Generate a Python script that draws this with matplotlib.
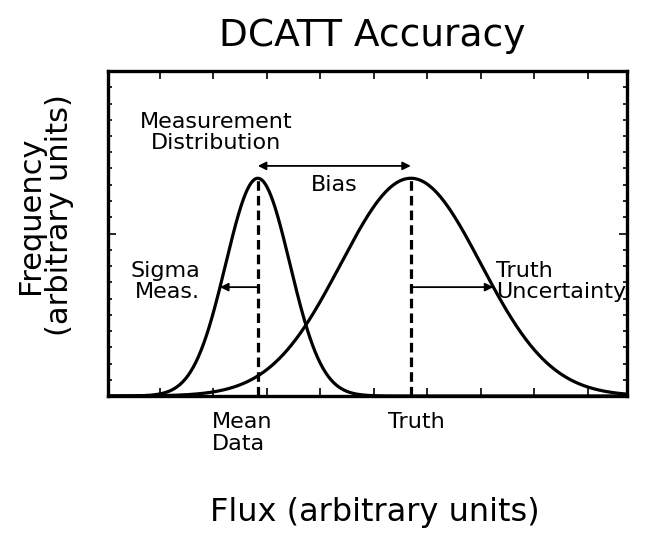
import numpy as np
import matplotlib
matplotlib.use("Agg")
import matplotlib.pyplot as plt

# (x in tick units, y as fraction of axis height)
mean_data=1.83
truth=4.69
sig_meas=0.6
sig_truth=1.31
peak=0.67
labels_meas=["Measurement","Distribution"]
lab_bias="Bias"
lab_sigma=["Sigma","Meas."]
lab_unc=["Truth","Uncertainty"]
lab_mean=["Mean","Data"]
lab_truth="Truth"

fg="black"
lw=2.3


def g(x,m,s):
	return peak*np.exp(-0.5*((x-m)/s)**2)


def main():
	plt.rcParams.update({"font.family":"DejaVu Sans"})
	fig=plt.figure(figsize=(6.46,5.34),dpi=100)
	fig.patch.set_facecolor("white")
	ax=fig.add_axes([108/646,1-396/534,519/646,325/534])
	ax.set_xlim(-0.97,8.73)
	ax.set_ylim(0,1)
	x=np.linspace(-0.97,8.73,800)
	ax.plot(x,g(x,mean_data,sig_meas),color=fg,lw=lw)
	ax.plot(x,g(x,truth,sig_truth),color=fg,lw=lw)
	for m in (mean_data,truth):
		ax.plot([m,m],[0,peak],color=fg,lw=lw,ls=(0,(3,1.6)))
	# arrows
	ap=dict(arrowstyle="-|>",color=fg,lw=1.3,mutation_scale=12,shrinkA=0,shrinkB=0)
	ab=dict(arrowstyle="<|-|>",color=fg,lw=1.3,mutation_scale=12,shrinkA=0,shrinkB=0)
	yb=0.708
	ax.annotate("",xy=(mean_data,yb),xytext=(truth,yb),arrowprops=ab)
	ax.text((mean_data+truth)/2,0.65,lab_bias,ha="center",va="center",fontsize=16)
	yh=peak/2
	hw_m=sig_meas*np.sqrt(2*np.log(2))
	hw_t=sig_truth*np.sqrt(2*np.log(2))
	ax.annotate("",xy=(mean_data-hw_m,yh),xytext=(mean_data,yh),arrowprops=ap)
	ax.annotate("",xy=(truth+hw_t,yh),xytext=(truth,yh),arrowprops=ap)
	ax.text(0.75,0.353,"\n".join(lab_sigma),ha="right",va="center",fontsize=16,linespacing=1.05)
	ax.text(truth+hw_t+0.05,0.353,"\n".join(lab_unc),ha="left",va="center",fontsize=16,linespacing=1.05)
	ax.text(1.05,0.81,"\n".join(labels_meas),ha="center",va="center",fontsize=16,linespacing=1.05)
	# labels under axis
	ax.text(mean_data-0.86,-0.05,"\n".join(lab_mean),ha="left",va="top",fontsize=16,linespacing=1.1)
	ax.text(truth-0.42,-0.05,lab_truth,ha="left",va="top",fontsize=16)
	# frame and ticks
	for s in ax.spines.values():
		s.set_linewidth(2.4)
		s.set_color(fg)
	ax.set_xticks(np.arange(0,9))
	ax.set_yticks([0,0.5,1])
	ax.set_yticks(np.arange(0,1.0001,0.05),minor=True)
	ax.tick_params(axis="both",which="both",direction="in",top=True,right=True,
		labelbottom=False,labelleft=False,color=fg,width=1.2)
	ax.tick_params(axis="both",which="major",length=6)
	ax.tick_params(axis="both",which="minor",length=3)
	fig.text(372/646,1-36/534,"DCATT Accuracy",ha="center",va="center",fontsize=27)
	fig.text(375/646,1-512/534,"Flux (arbitrary units)",ha="center",va="center",fontsize=23)
	fig.text(45/646,1-215/534,"Frequency\n(arbitrary units)",ha="center",va="center",
		rotation=90,fontsize=22,linespacing=1.0)
	fig.savefig("out.png",dpi=100)
	plt.close(fig)


if __name__=="__main__":
	main()
